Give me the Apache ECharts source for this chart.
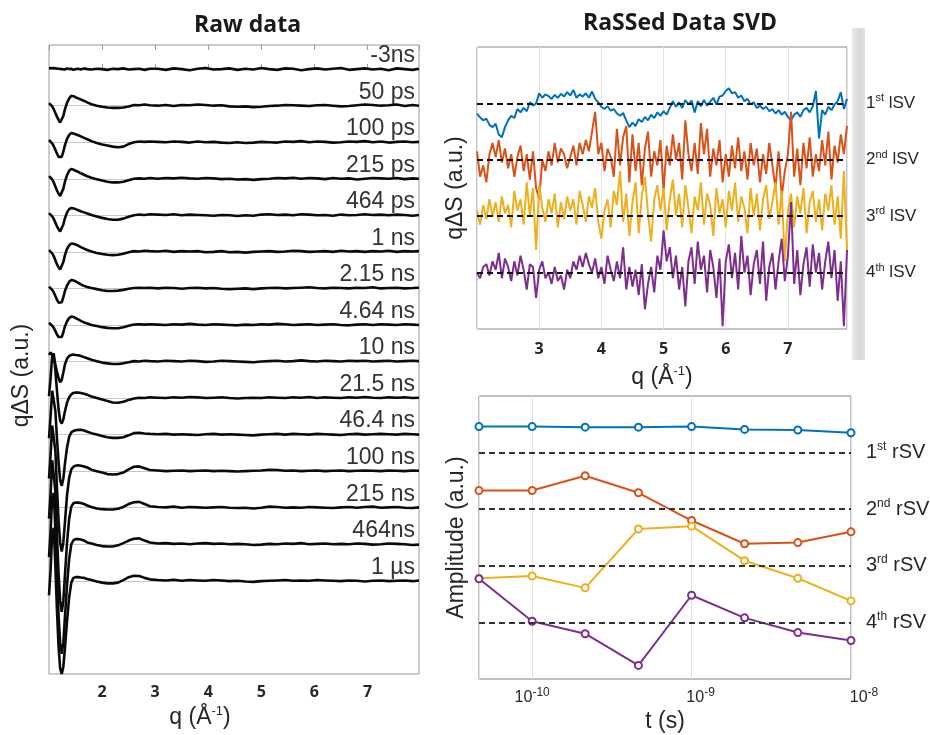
<!DOCTYPE html>
<html><head><meta charset="utf-8">
<script src="https://cdn.jsdelivr.net/npm/echarts@6/dist/echarts.min.js"></script>
<style>html,body{margin:0;padding:0;background:#fff}#c{width:930px;height:735px}</style>
</head><body><div id="c"></div>
<script>
// ---------------- Raw data (left panel) ----------------
const rawQ = [1.00,1.03,1.06,1.09,1.12,1.15,1.18,1.21,1.24,1.27,1.30,1.34,1.38,1.42,1.46,1.50,1.55,1.60,1.66,1.72,1.80,1.90,2.00,2.10,2.20,2.30,2.40,2.50,2.60,2.70,2.80,2.90,
  3.05,3.20,3.35,3.50,3.65,3.80,3.95,4.10,4.25,4.40,4.55,4.70,4.85,5.00,5.15,5.30,5.45,5.60,5.75,5.90,6.05,6.20,6.35,6.50,6.65,6.80,6.95,7.10,7.25,7.40,7.55,7.70,7.85,7.97];
const rawLabels = ['-3ns','50 ps','100 ps','215 ps','464 ps','1 ns','2.15 ns','4.64 ns','10 ns','21.5 ns','46.4 ns','100 ns','215 ns','464ns','1 µs'];
const raw_m3ns = [0.02,0.01,0.03,0.0,0.02,-0.01,0.01,0.02,0.0,0.01,-0.01,0.02,0.0,0.01,-0.02,0.0,0.01,-0.01,0.02,0.0,-0.01,0.01,0.0,-0.02,0.01,0.0,0.02,-0.01,0.0,0.01,-0.02,0.01,
  0.01,-0.02,0.02,0.0,-0.03,0.01,0.03,-0.01,0.0,0.02,-0.02,0.01,-0.01,0.03,0.0,-0.02,0.02,0.01,-0.03,0.0,0.02,-0.01,0.01,0.03,-0.02,0.0,0.02,-0.01,0.01,-0.03,0.02,0.0,-0.02,0.01];
const raw_50ps = [0.07,0.04,-0.02,-0.1,-0.2,-0.3,-0.39,-0.46,-0.42,-0.28,-0.1,0.08,0.2,0.27,0.26,0.23,0.2,0.17,0.13,0.09,0.04,0.0,-0.03,-0.05,-0.06,-0.06,-0.05,-0.02,0.02,0.01,0.03,0.01,
  0.0,0.02,-0.01,0.02,0.01,0.03,0.02,0.0,0.01,-0.02,-0.03,-0.02,-0.04,-0.03,-0.01,0.0,0.02,0.01,0.0,-0.01,0.01,0.02,0.0,-0.02,-0.01,0.01,0.03,0.02,0.0,0.01,0.03,-0.01,0.02,0.0];
const raw_100ps = [0.06,0.03,-0.03,-0.11,-0.21,-0.31,-0.4,-0.45,-0.4,-0.26,-0.08,0.09,0.2,0.25,0.24,0.22,0.19,0.16,0.12,0.08,0.03,-0.02,-0.06,-0.09,-0.12,-0.14,-0.12,-0.05,0.0,0.02,0.01,0.02,
  0.01,0.0,0.02,0.01,-0.01,0.02,0.0,0.01,-0.01,-0.02,0.0,-0.02,-0.01,0.01,0.0,-0.01,0.02,0.01,0.03,0.0,0.02,0.01,-0.01,0.0,0.02,0.01,0.03,0.0,0.02,-0.01,0.01,0.02,0.0,0.01];
const raw_215ps = [0.07,0.04,-0.02,-0.1,-0.21,-0.32,-0.41,-0.47,-0.42,-0.27,-0.08,0.1,0.22,0.27,0.25,0.22,0.19,0.15,0.11,0.07,0.03,-0.01,-0.05,-0.08,-0.1,-0.1,-0.08,-0.04,0.0,0.01,0.0,0.02,
  0.0,0.02,0.01,0.03,0.01,0.0,0.02,0.01,-0.01,0.0,-0.02,-0.01,-0.03,-0.01,0.0,0.02,0.01,0.03,0.0,0.02,0.01,-0.01,0.02,0.0,0.01,-0.02,0.0,0.02,0.01,0.0,0.02,-0.01,0.01,0.0];
const raw_464ps = [0.06,0.03,-0.03,-0.1,-0.2,-0.3,-0.38,-0.44,-0.39,-0.25,-0.08,0.08,0.17,0.2,0.19,0.17,0.14,0.11,0.08,0.05,0.01,-0.03,-0.07,-0.1,-0.12,-0.12,-0.09,-0.04,0.0,0.02,0.01,0.03,
  0.02,0.01,0.03,0.0,0.02,0.01,0.0,-0.01,0.01,0.0,-0.02,0.0,-0.01,0.02,0.03,0.01,0.02,0.0,0.03,0.02,0.0,0.01,-0.01,0.02,0.0,0.01,0.03,0.01,0.02,0.0,0.02,0.01,-0.01,0.01];
const raw_1ns = [0.05,0.03,-0.04,-0.12,-0.23,-0.34,-0.42,-0.48,-0.43,-0.28,-0.09,0.08,0.18,0.23,0.22,0.2,0.17,0.13,0.09,0.05,0.01,-0.03,-0.06,-0.08,-0.09,-0.08,-0.05,-0.01,0.02,0.01,0.03,0.02,
  0.01,0.03,0.0,0.02,0.01,0.02,-0.01,0.0,0.02,-0.01,0.0,-0.02,0.0,0.01,0.02,0.0,0.01,0.03,0.02,0.0,0.01,0.02,0.0,0.03,0.01,0.02,0.0,0.02,0.01,0.03,0.0,0.02,0.01,0.02];
const raw_2p15ns = [0.05,0.02,-0.04,-0.11,-0.21,-0.31,-0.39,-0.44,-0.38,-0.24,-0.07,0.08,0.18,0.23,0.22,0.19,0.15,0.11,0.07,0.04,0.01,-0.02,-0.05,-0.07,-0.07,-0.06,-0.04,-0.01,0.01,0.02,0.01,0.02,
  0.0,0.02,0.01,-0.01,0.01,0.02,0.0,0.01,-0.01,-0.02,-0.01,0.0,-0.02,0.0,0.01,0.02,0.0,0.01,0.02,0.03,0.01,0.0,0.02,0.01,0.0,0.02,0.01,0.03,0.0,0.01,0.02,0.0,0.01,0.02];
const raw_4p64ns = [0.06,0.03,-0.02,-0.08,-0.17,-0.26,-0.33,-0.38,-0.33,-0.2,-0.04,0.1,0.19,0.23,0.22,0.19,0.15,0.11,0.07,0.04,0.0,-0.03,-0.06,-0.08,-0.09,-0.09,-0.06,-0.02,0.01,0.02,0.01,0.02,
  0.01,0.0,0.02,0.01,0.03,0.01,0.0,0.02,0.01,0.0,-0.01,0.01,0.0,0.02,0.01,0.03,0.02,0.0,0.01,0.02,0.0,0.01,0.02,0.0,-0.01,0.01,0.02,0.0,0.02,0.01,0.0,0.02,0.01,0.0];
const raw_10ns = [0.18,0.25,0.22,0.1,-0.08,-0.28,-0.45,-0.57,-0.5,-0.3,-0.08,0.08,0.15,0.18,0.19,0.18,0.17,0.15,0.12,0.09,0.05,0.01,-0.03,-0.05,-0.07,-0.07,-0.05,-0.02,0.01,0.0,0.02,0.01,
  0.0,0.02,0.01,0.0,0.02,0.01,-0.01,0.0,0.02,0.01,0.0,-0.01,-0.02,0.0,0.01,0.02,0.0,0.01,0.03,0.01,0.0,0.02,0.01,0.0,0.02,0.01,0.02,0.0,0.01,0.02,0.0,0.01,0.02,0.01];
const raw_21p5ns = [0.05,0.55,1.15,1.22,0.75,0.2,-0.3,-0.62,-0.7,-0.58,-0.36,-0.12,0.02,0.1,0.14,0.15,0.15,0.14,0.12,0.09,0.04,0.0,-0.04,-0.08,-0.12,-0.13,-0.1,-0.05,-0.01,0.01,0.0,0.02,
  0.01,0.0,0.02,0.01,0.03,0.02,0.0,0.01,0.02,0.0,-0.01,0.0,0.01,0.0,0.02,0.01,0.0,0.02,0.01,0.03,0.0,0.02,0.01,0.0,0.02,0.01,0.03,0.01,0.0,0.02,0.01,0.02,0.0,0.01];
const raw_46p4ns = [-0.1,0.5,1.2,1.25,0.65,-0.1,-0.75,-1.25,-1.4,-1.2,-0.8,-0.35,-0.06,0.06,0.1,0.12,0.13,0.13,0.11,0.08,0.04,0.0,-0.04,-0.07,-0.09,-0.09,-0.07,-0.02,0.04,0.05,0.03,0.02,
  0.01,0.02,0.0,0.01,0.0,-0.01,0.01,0.02,0.0,0.01,0.0,-0.01,-0.02,0.0,0.01,0.02,0.0,0.02,0.01,0.0,0.02,0.01,0.0,-0.01,0.01,0.02,0.0,0.01,0.02,0.01,0.0,0.02,0.01,0.0];
const raw_100ns = [-0.2,0.45,1.25,1.3,0.55,-0.45,-1.35,-1.95,-2.2,-1.95,-1.4,-0.65,-0.18,0.05,0.12,0.15,0.16,0.15,0.13,0.1,0.04,0.0,-0.04,-0.08,-0.09,-0.08,-0.04,0.05,0.12,0.13,0.08,0.03,
  0.02,0.0,0.01,0.02,0.0,0.01,0.02,0.0,0.01,0.0,-0.01,0.0,0.01,0.02,0.04,0.03,0.01,0.02,0.0,0.01,0.02,0.0,0.01,0.02,0.0,0.01,0.02,0.01,0.0,0.02,0.01,0.0,0.02,0.01];
const raw_215ns = [-0.3,0.4,1.3,1.35,0.45,-0.75,-1.8,-2.55,-2.85,-2.55,-1.85,-0.95,-0.3,0.03,0.12,0.14,0.14,0.13,0.1,0.06,0.02,-0.02,-0.04,-0.05,-0.05,-0.03,0.02,0.1,0.15,0.16,0.1,0.04,
  0.02,0.01,0.03,0.0,0.02,0.01,0.0,0.01,0.02,0.0,-0.01,0.0,-0.02,0.0,0.03,0.02,0.0,0.01,0.0,0.02,0.01,0.0,-0.01,0.01,0.02,0.0,0.02,0.03,0.0,0.01,0.02,0.0,-0.01,0.01];
const raw_464ns = [-0.35,0.35,1.3,1.4,0.4,-0.85,-1.95,-2.7,-3.0,-2.7,-2.0,-1.1,-0.4,0.0,0.11,0.14,0.14,0.13,0.1,0.05,0.02,-0.02,-0.05,-0.06,-0.06,-0.03,0.03,0.1,0.15,0.16,0.1,0.05,
  0.02,0.03,0.01,0.02,0.0,0.02,0.03,0.01,0.02,0.0,0.01,0.0,-0.02,-0.01,0.01,0.0,0.02,0.01,0.03,0.0,0.01,0.02,0.0,0.01,0.0,0.02,0.01,-0.01,0.0,0.02,0.01,0.0,-0.02,-0.01];
const raw_1us = [-0.4,0.3,1.3,1.45,0.4,-0.8,-1.8,-2.4,-2.55,-2.35,-1.85,-1.1,-0.45,-0.05,0.08,0.1,0.1,0.09,0.08,0.05,0.02,-0.02,-0.05,-0.07,-0.07,-0.05,0.02,0.1,0.14,0.13,0.08,0.04,
  0.02,0.01,0.03,0.0,0.02,0.01,0.0,0.02,0.01,-0.01,0.0,-0.02,-0.03,-0.01,0.0,0.01,0.02,0.0,0.01,0.0,0.02,0.01,0.0,-0.01,0.01,0.0,-0.02,0.0,0.01,-0.01,0.0,0.01,-0.01,0.01];
const rawTraces = [raw_m3ns,raw_50ps,raw_100ps,raw_215ps,raw_464ps,raw_1ns,raw_2p15ns,raw_4p64ns,raw_10ns,raw_21p5ns,raw_46p4ns,raw_100ns,raw_215ns,raw_464ns,raw_1us];

// ---------------- lSV (top right) ----------------
const lsvQStart = 2.0, lsvQStep = 0.05, lsvCount = 120; // sampling grid of q
const lsv1 = [-0.18,-0.25,-0.3,-0.27,-0.38,-0.42,-0.36,-0.55,-0.6,-0.42, -0.3,-0.22,-0.26,-0.1,-0.16,-0.08,-0.14,0.02,-0.04,0.0,
  0.18,0.1,0.16,0.13,0.08,0.15,0.1,0.17,0.12,0.2, 0.14,0.24,0.1,0.16,0.12,0.18,0.1,0.21,0.08,0.02,
  -0.06,-0.1,-0.05,-0.13,-0.1,-0.18,-0.22,-0.17,-0.3,-0.42, -0.34,-0.4,-0.28,-0.33,-0.24,-0.3,-0.2,-0.26,-0.16,-0.22,
  -0.14,-0.2,-0.08,0.04,-0.06,0.02,-0.08,0.06,-0.02,0.05, -0.16,0.04,-0.05,0.06,-0.04,0.03,0.1,-0.02,0.12,0.14,
  0.22,0.27,0.18,0.2,0.1,0.14,0.04,0.08,-0.02,0.02, -0.08,-0.04,-0.1,-0.06,-0.14,-0.1,-0.18,-0.12,-0.2,-0.15,
  -0.24,-0.3,-0.2,-0.16,-0.24,-0.12,-0.08,-0.16,-0.05,0.22, -0.62,-0.12,-0.2,-0.06,-0.12,-0.02,0.04,0.2,-0.1,0.08];
const lsv2 = [0.15,-0.3,-0.1,-0.4,0.1,0.3,0.05,0.35,-0.05,0.2, -0.15,0.1,-0.3,0.05,0.25,-0.2,0.1,-0.35,0.15,-0.5,
  -0.7,0.0,-0.2,0.15,-0.1,0.3,-0.05,0.2,0.1,-0.15, 0.05,0.25,-0.1,0.3,0.1,0.35,0.15,0.5,0.85,0.1,
  0.3,-0.2,0.2,0.05,-0.3,0.55,-0.1,0.4,0.6,-0.4, 0.45,-0.2,0.3,-0.45,0.2,0.5,-0.3,0.15,-0.1,0.35,
  -0.55,0.25,-0.1,0.45,0.0,0.3,-0.35,0.7,0.1,-0.2, 0.3,-0.25,0.65,0.1,0.55,-0.3,0.2,-0.1,0.35,-0.4,
  0.1,-0.3,0.25,-0.15,0.4,-0.2,0.15,-0.35,0.3,-0.1, 0.2,-0.4,0.1,-0.25,0.3,-0.1,-0.5,0.15,-0.65,-0.2,
  0.1,0.85,-0.3,0.2,-0.45,0.3,-0.15,0.4,-0.3,0.1, -0.2,0.35,-0.1,0.5,-0.35,0.25,-0.05,0.45,0.1,0.6];
const lsv3 = [0.1,-0.15,0.2,-0.05,0.3,0.0,0.25,-0.1,0.35,0.05, 0.2,-0.2,0.45,0.1,0.3,-0.15,0.6,0.0,0.5,-0.6,
  0.55,0.15,-0.1,0.3,0.05,0.4,-0.2,0.25,-0.05,0.35, 0.1,0.3,-0.15,0.45,0.2,-0.1,0.35,0.15,0.5,-0.1,
  -0.4,0.1,0.3,-0.2,0.45,0.2,0.8,-0.1,0.4,-0.35, 0.25,0.6,-0.3,0.35,0.7,0.05,-0.45,0.3,0.55,0.1,
  0.5,-0.25,0.3,0.65,0.0,0.4,-0.2,0.55,0.15,-0.3, 0.35,0.1,0.6,-0.15,0.4,0.2,-0.35,0.5,0.05,0.3,
  -0.2,0.45,0.1,0.6,-0.1,0.35,0.15,-0.3,0.5,0.0, 0.4,-0.25,0.3,0.55,-0.05,0.25,0.6,-0.15,0.45,-0.8,
  0.1,0.4,-0.2,0.35,0.05,0.5,-0.3,0.25,0.45,-0.1, 0.3,-0.25,0.4,0.1,0.55,-0.15,0.35,-0.4,0.8,-0.6];
const lsv4 = [0.0,-0.1,0.1,0.15,-0.05,0.2,0.05,0.35,-0.1,0.25, 0.1,-0.15,0.2,-0.05,0.3,0.05,-0.3,0.15,0.1,-0.45,
  0.05,0.2,-0.1,0.0,-0.2,0.1,-0.15,-0.05,-0.3,0.05, -0.1,0.2,0.05,0.3,0.1,0.35,0.15,0.0,0.25,-0.1,
  0.1,-0.2,0.3,0.05,-0.15,0.2,-0.1,0.45,-0.3,0.1, -0.25,0.05,-0.4,0.15,-0.65,-0.2,0.1,-0.35,0.3,0.05,
  0.75,0.2,0.45,-0.1,0.3,-0.3,0.1,-0.6,0.2,0.45, -0.2,0.55,0.05,0.3,-0.35,0.4,0.1,-0.45,0.25,-0.95,
  0.2,0.5,-0.1,0.35,-0.3,0.65,0.0,0.3,-0.4,0.15, 0.4,-0.2,0.55,-0.5,0.1,0.35,-0.3,0.2,0.6,-0.15,
  0.3,1.25,-0.2,0.4,-0.4,0.15,0.45,-0.25,0.5,0.0, 0.35,-0.3,0.2,0.55,-0.1,0.4,-0.5,0.2,-0.95,0.4];
const lsvTraces = [lsv1, lsv2, lsv3, lsv4];
const lsvOffsets = [0, -1, -2, -3];
const lsvLabels = [['1','st'],['2','nd'],['3','rd'],['4','th']];

// ---------------- rSV (bottom right) ----------------
const rsvT = [4.64e-11, 1e-10, 2.15e-10, 4.64e-10, 1e-9, 2.15e-9, 4.64e-9, 1e-8];
const rsv1 = [0.46, 0.46, 0.45, 0.45, 0.46, 0.41, 0.40, 0.35];
const rsv2 = [0.33, 0.33, 0.59, 0.29, -0.20, -0.61, -0.59, -0.40];
const rsv3 = [-0.22, -0.18, -0.39, 0.65, 0.70, 0.09, -0.22, -0.62];
const rsv4 = [0.77, 0.02, -0.20, -0.76, 0.48, 0.08, -0.18, -0.32];
const rsvTraces = [rsv1, rsv2, rsv3, rsv4];
const rsvOffsets = [0, -1, -2, -3];
const rsvMinorGrid = [5e-11,6e-11,7e-11,8e-11,9e-11,2e-10,3e-10,4e-10,5e-10,6e-10,7e-10,8e-10,9e-10,2e-9,3e-9,4e-9,5e-9,6e-9,7e-9,8e-9,9e-9];

const svColors = ['#0072BD', '#D95319', '#EDB120', '#7E2F8E'];

// ---------------- build ----------------
const lsvQ = Array.from({length: lsvCount}, (_, k) => Math.round((lsvQStart + lsvQStep * k) * 100) / 100);
const TXT = '#262626';
const supRich = (fs, sfs) => ({
  n: {fontSize: fs, fontFamily: 'Liberation Sans', color: TXT, lineHeight: fs + 4},
  s: {fontSize: sfs, fontFamily: 'Liberation Sans', color: TXT, verticalAlign: 'top', lineHeight: fs + 4}
});

const series = [];
rawTraces.forEach((tr, i) => {
  series.push({
    type: 'line', xAxisIndex: 0, yAxisIndex: 0, showSymbol: false, z: 3,
    data: rawQ.map((q, k) => [q, tr[k] - i]),
    lineStyle: {color: '#0a0a0a', width: 2.6}, itemStyle: {color: '#0a0a0a'},
    emphasis: {disabled: true}, animation: false,
    markLine: {
      silent: true, symbol: ['none', 'none'], z: 1, animation: false,
      lineStyle: {color: '#c8c8c8', width: 1, type: 'solid'},
      label: {show: true, position: 'insideEndTop', formatter: rawLabels[i], fontSize: 23,
        fontFamily: 'Liberation Sans', color: '#333', distance: [4, 2]},
      data: [{yAxis: -i}]
    }
  });
});
lsvTraces.forEach((tr, i) => {
  series.push({
    type: 'line', xAxisIndex: 2, yAxisIndex: 1, showSymbol: false, z: 3,
    data: lsvQ.map((q, k) => [q, tr[k] + lsvOffsets[i]]),
    lineStyle: {color: svColors[i], width: 2}, itemStyle: {color: svColors[i]},
    emphasis: {disabled: true}, animation: false,
    markLine: {
      silent: true, symbol: ['none', 'none'], animation: false,
      lineStyle: {color: '#111', width: 2, type: [6, 4]},
      label: {show: true, position: 'end', distance: 19,
        formatter: '{n|' + lsvLabels[i][0] + '}{s|' + lsvLabels[i][1] + '}{n| lSV}',
        rich: supRich(17, 11)},
      data: [{yAxis: lsvOffsets[i]}]
    }
  });
});
series.push({
  type: 'line', xAxisIndex: 3, yAxisIndex: 2, data: [], z: 1, animation: false,
  markLine: {silent: true, symbol: ['none','none'], z: 1, animation: false,
    lineStyle: {color: '#d6d6d6', width: 1, type: [2, 2]}, label: {show: false},
    data: rsvMinorGrid.map(v => ({xAxis: v}))}
});
rsvTraces.forEach((tr, i) => {
  series.push({
    type: 'line', xAxisIndex: 3, yAxisIndex: 2, z: 3,
    data: rsvT.map((t, k) => [t, tr[k] + rsvOffsets[i]]),
    symbol: 'emptyCircle', symbolSize: 7, showSymbol: true,
    lineStyle: {color: svColors[i], width: 2}, itemStyle: {color: svColors[i], borderWidth: 1.6},
    emphasis: {disabled: true}, animation: false,
    markLine: {
      silent: true, symbol: ['none', 'none'], animation: false,
      lineStyle: {color: '#333', width: 2, type: [6, 4]},
      label: {show: true, position: 'end', distance: 15,
        formatter: '{n|' + lsvLabels[i][0] + '}{s|' + lsvLabels[i][1] + '}{n| rSV}',
        rich: supRich(20, 12)},
      data: [{yAxis: rsvOffsets[i]}]
    }
  });
});

const nameStyle = {fontSize: 23, fontFamily: 'Liberation Sans', color: TXT,
  rich: {s: {fontSize: 13, fontFamily: 'Liberation Sans', color: TXT, verticalAlign: 'top', lineHeight: 26}}};
const boldTick = {fontSize: 16, fontWeight: 'bold', fontFamily: 'Open Sans', color: TXT};

const option = {
  backgroundColor: '#fff',
  animation: false,
  grid: [
    {left: 49, right: 511, top: 45, bottom: 61, show: true, borderColor: '#9a9a9a', borderWidth: 1},
    {left: 477, right: 83, top: 47, bottom: 406, show: true, borderColor: '#8a8a8a', borderWidth: 1},
    {left: 479, right: 79, top: 396, bottom: 56, show: true, borderColor: '#808080', borderWidth: 1}
  ],
  xAxis: [
    {gridIndex: 0, type: 'value', min: 1, max: 7.97, interval: 1, position: 'bottom',
      axisLine: {show: false}, axisTick: {show: true, inside: true, length: 5, lineStyle: {color: '#9a9a9a'}},
      axisLabel: Object.assign({showMinLabel: false, showMaxLabel: false, margin: 10}, boldTick), splitLine: {show: false},
      name: 'q (Å{s|-1})', nameLocation: 'middle', nameGap: 31,
      nameTextStyle: Object.assign({padding: [0, 68, 0, 0]}, nameStyle)},
    {gridIndex: 0, type: 'value', min: 1, max: 7.97, interval: 1, position: 'top',
      axisLine: {show: false}, axisTick: {show: true, inside: true, length: 5, lineStyle: {color: '#9a9a9a'}},
      axisLabel: {show: false}, splitLine: {show: false}},
    {gridIndex: 1, type: 'value', min: 2, max: 7.95, interval: 1,
      axisLine: {show: false}, axisTick: {show: false},
      axisLabel: Object.assign({showMinLabel: false, showMaxLabel: false, margin: 12}, boldTick),
      splitLine: {show: true, lineStyle: {color: '#e4e4e4', width: 1}},
      name: 'q (Å{s|-1})', nameLocation: 'middle', nameGap: 36, nameTextStyle: nameStyle},
    {gridIndex: 2, type: 'log', logBase: 10, min: 4.64e-11, max: 1e-8,
      axisLine: {show: false}, axisTick: {show: false},
      splitLine: {show: true, lineStyle: {color: '#e2e2e2', width: 1}},
      axisLabel: {showMinLabel: false, margin: 8, fontSize: 17, fontFamily: 'Liberation Sans', color: TXT, lineHeight: 22,
        formatter: v => {
          const e = Math.round(Math.log10(v));
          const pad = e === -10 ? '' : (e === -9 ? '{p1| }' : '{p2| }');
          return pad + '{b|10}{s|' + e + '}';
        },
        rich: {
          p1: {width: 18, fontSize: 17, lineHeight: 22},
          p2: {width: 26, fontSize: 17, lineHeight: 22},
          b: {fontSize: 16, fontFamily: 'Liberation Sans', color: TXT, lineHeight: 22},
          s: {fontSize: 12, fontFamily: 'Liberation Sans', color: TXT, verticalAlign: 'top', lineHeight: 22}
        }},
      name: 't (s)', nameLocation: 'middle', nameGap: 31, nameTextStyle: nameStyle}
  ],
  yAxis: [
    {gridIndex: 0, type: 'value', min: -16.55, max: 0.66, axisLine: {show: false}, axisTick: {show: false},
      axisLabel: {show: false}, splitLine: {show: false},
      name: 'qΔS (a.u.)', nameLocation: 'middle', nameGap: 16,
      nameTextStyle: Object.assign({}, nameStyle, {padding: [0, 32, 0, 0]})},
    {gridIndex: 1, type: 'value', min: -4, max: 1, axisLine: {show: false}, axisTick: {show: false},
      axisLabel: {show: false}, splitLine: {show: false},
      name: 'qΔS (a.u.)', nameLocation: 'middle', nameGap: 10, nameTextStyle: nameStyle},
    {gridIndex: 2, type: 'value', min: -4, max: 1, axisLine: {show: false}, axisTick: {show: false},
      axisLabel: {show: false}, splitLine: {show: false},
      name: 'Amplitude (a.u.)', nameLocation: 'middle', nameGap: 11, nameTextStyle: nameStyle}
  ],
  graphic: [
    {type: 'text', left: 194, top: 14, style: {text: 'Raw data', fill: '#1a1a1a',
      font: 'bold 23px "Open Sans"'}},
    {type: 'rect', shape: {x: 852, y: 28, width: 13, height: 332}, z: 0,
      style: {fill: new echarts.graphic.LinearGradient(0, 0, 1, 0, [
        {offset: 0, color: '#ececec'}, {offset: 0.6, color: '#d6d6d6'}, {offset: 1, color: '#e2e2e2'}])}},
    {type: 'text', left: 583, top: 12, style: {text: 'RaSSed Data SVD', fill: '#1a1a1a',
      font: 'bold 23px "Open Sans"'}}
  ],
  series: series
};
const chart = echarts.init(document.getElementById('c'), null, {renderer: 'canvas'});
chart.setOption(option);
</script></body></html>
